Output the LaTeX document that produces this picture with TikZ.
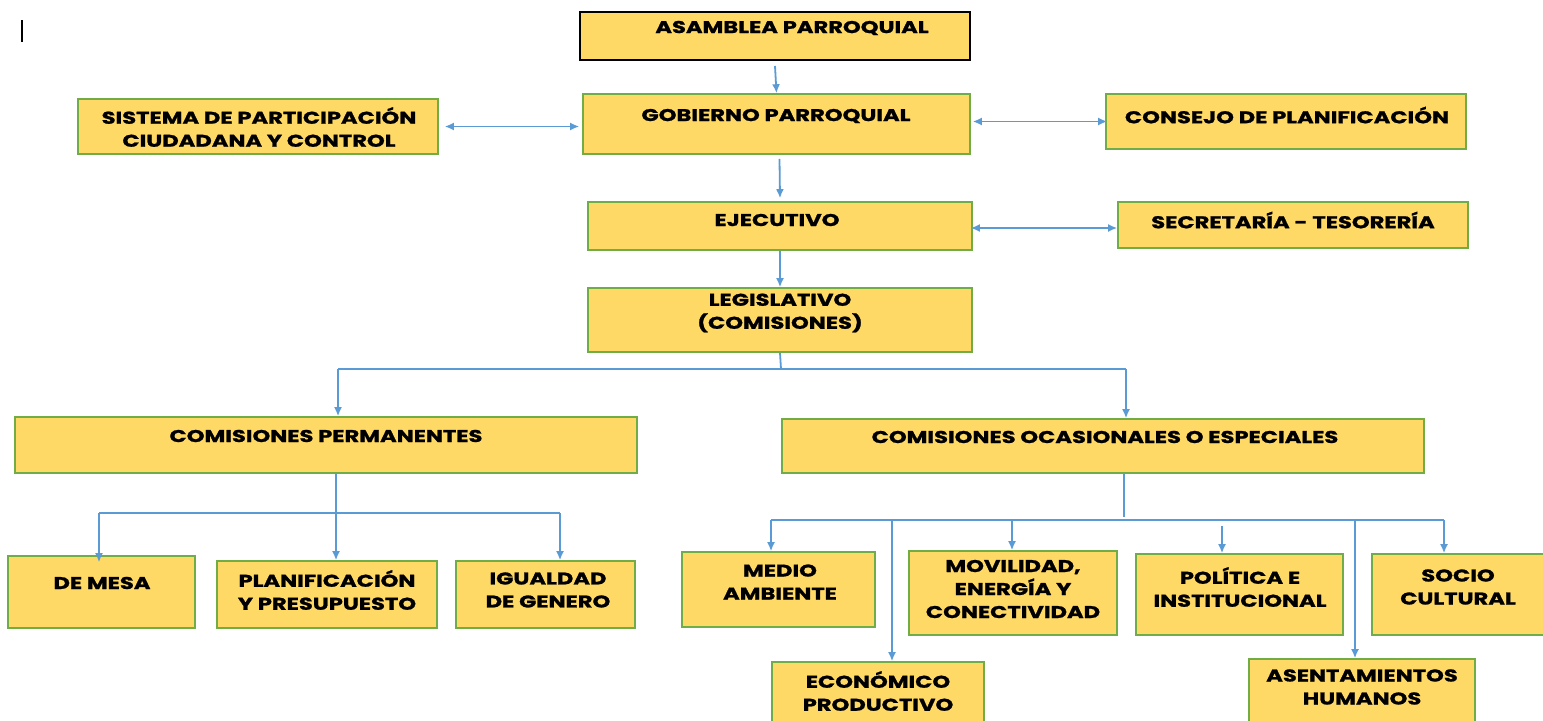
\documentclass[tikz,border=0pt]{standalone}
\usepackage{fontspec}
\setmainfont{Poppins}
\newfontfamily\boxfont{Poppins}[FakeStretch=1.33, FakeBold=1.2]
\usetikzlibrary{arrows.meta}
\definecolor{boxfill}{HTML}{FFD966}
\definecolor{boxline}{HTML}{70AD47}
\definecolor{arrowc}{HTML}{5B9BD5}
\tikzset{
  box/.style={draw=boxline, fill=boxfill, line width=0.8pt, inner sep=0pt},
  lbl/.style={font=\boxfont\bfseries\fontsize{8.5}{11.5}\selectfont, align=center, inner sep=0pt},
  arr/.style={draw=arrowc, line width=0.9pt, -{Latex[length=4.5pt,width=4pt]}},
  dbl/.style={draw=arrowc, line width=0.9pt, {Latex[length=4.5pt,width=4pt]}-{Latex[length=4.5pt,width=4pt]}},
  ln/.style={draw=arrowc, line width=0.9pt}
}
% [style]{name}{x1}{y1}{x2}{y2}{tx}{ty}{text}
\newcommand\mkbox[9][]{%
  \node[box,#1,minimum width={(#5-#3)*0.5pt},minimum height={(#6-#4)*0.5pt}] (#2) at ({(#3+#5)/2},{(#4+#6)/2}) {};
  \node[lbl] (#2-t) at (#7,#8) {#9};}
\begin{document}
\begin{tikzpicture}[x=0.5pt,y=-0.5pt]
\useasboundingbox (0,0) rectangle (1543,720);
\fill[white] (0,0) rectangle (1543,720);
% cursor mark
\draw[black, line width=0.9pt] (22,20) -- (22,42);
% boxes
\mkbox[draw=black,line width=1pt]{asam}{580}{12}{970}{60}{792}{28}{ASAMBLEA PARROQUIAL}
\mkbox{gob}{583}{94}{970}{154}{776}{116}{GOBIERNO PARROQUIAL}
\mkbox{sis}{78}{99}{438}{154}{259}{127}{SISTEMA DE PARTICIPACIÓN\\CIUDADANA Y CONTROL}
\mkbox{con}{1106}{94}{1466}{149}{1287}{115}{CONSEJO DE PLANIFICACIÓN}
\mkbox{eje}{588}{202}{972}{250}{777}{220}{EJECUTIVO}
\mkbox{sec}{1118}{202}{1468}{248}{1293}{220}{SECRETARÍA - TESORERÍA}
\mkbox{leg}{588}{288}{972}{352}{780}{313}{LEGISLATIVO\\(COMISIONES)}
\mkbox{per}{15}{417}{637}{473}{326}{436}{COMISIONES PERMANENTES}
\mkbox{oca}{782}{419}{1424}{473}{1105}{437}{COMISIONES OCASIONALES O ESPECIALES}
\mkbox{mes}{8}{556}{195}{628}{102}{583}{DE MESA}
\mkbox{pla}{217}{561}{437}{628}{327}{590}{PLANIFICACIÓN\\Y PRESUPUESTO}
\mkbox{igu}{456}{561}{635}{628}{548}{590}{IGUALDAD\\DE GENERO}
\mkbox{med}{682}{552}{875}{627}{780}{582}{MEDIO\\AMBIENTE}
\mkbox{mov}{909}{551}{1117}{635}{1013}{589}{MOVILIDAD,\\ENERGÍA Y\\CONECTIVIDAD}
\mkbox{pol}{1136}{554}{1343}{635}{1240}{587}{POLÍTICA E\\INSTITUCIONAL}
\mkbox{soc}{1372}{554}{1545}{635}{1458}{587}{SOCIO\\CULTURAL}
\mkbox{eco}{772}{662}{984}{725}{878}{691}{ECONÓMICO\\PRODUCTIVO}
\mkbox{ase}{1249}{659}{1475}{725}{1362}{687}{ASENTAMIENTOS\\HUMANOS}
% top connectors
\draw[arr] (asam.south) ++(0,5) -- (gob.north);
\draw[arr] ([xshift=1.5pt]gob.south) ++(0,4) -- ([yshift=1.5pt]eje.north);
\draw[dbl, shorten <=3pt, shorten >=1.5pt] (sis.east) -- (gob.west |- sis.east);
\draw[dbl, shorten <=1pt, shorten >=-1pt] (gob.east |- con.west) -- (con.west);
\draw[dbl, shorten <=-1pt] ([yshift=-1pt]eje.east) -- ([yshift=-1.5pt]sec.west);
\draw[arr] (eje.south) -- (leg.north);
% legislative tree
\coordinate (j0) at (781,369);
\coordinate (jl) at (338,369);
\coordinate (jr) at (1126,369);
\draw[ln] (leg.south) -- (j0);
\draw[ln] (jl) -- (jr);
\draw[arr] (jl) -- (jl |- per.north);
\draw[arr] (jr) -- (jr |- oca.north);
% permanent tree
\coordinate (p0) at (336,513);
\coordinate (pl) at (99,513);
\coordinate (pr) at (560,513);
\draw[ln] (p0 |- per.south) -- (p0);
\draw[ln] (pl) -- (pr);
\draw[arr] (pl) -- ([yshift=-3.5pt]pl |- mes.north);
\draw[arr] (p0) -- (p0 |- pla.north);
\draw[arr] (pr) -- (pr |- igu.north);
% occasional tree
\coordinate (o0) at (1124,517);
\coordinate (ol) at (771,520);
\coordinate (or) at (1444,520);
\coordinate (oe) at (892,520);
\coordinate (om) at (1012,520);
\coordinate (op) at (1222,526);
\coordinate (oa) at (1355,520);
\draw[ln] (o0 |- oca.south) -- (o0);
\draw[ln] (ol) -- (or);
\draw[arr] (ol) -- (ol |- med.north);
\draw[arr] (oe) -- (oe |- eco.north);
\draw[arr] (om) -- (om |- mov.north);
\draw[arr] (op) -- (op |- pol.north);
\draw[arr] (oa) -- (oa |- ase.north);
\draw[arr] (or) -- (or |- soc.north);
\end{tikzpicture}
\end{document}
